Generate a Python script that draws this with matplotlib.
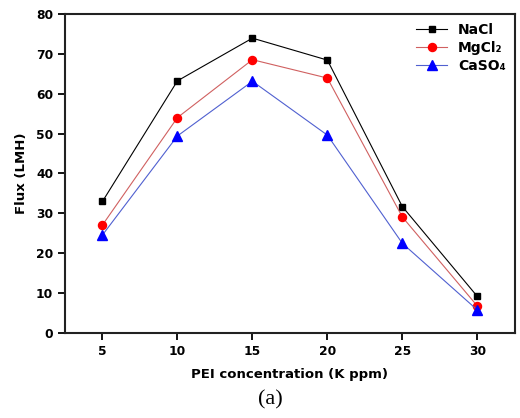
import matplotlib
matplotlib.use("Agg")
import matplotlib.pyplot as plt

conc = [5, 10, 15, 20, 25, 30]
nacl = [33.0, 63.2, 73.9, 68.4, 31.7, 9.2]
mgcl2 = [27.1, 54.0, 68.5, 63.9, 29.1, 6.8]
caso4 = [24.6, 49.4, 63.1, 49.6, 22.5, 5.8]
xticks = [5, 10, 15, 20, 25, 30]
yticks = [0, 10, 20, 30, 40, 50, 60, 70, 80]

fig = plt.figure(figsize=(5.2, 4.18), dpi=100)
ax = fig.add_axes([0.125, 0.203, 0.865, 0.764])

ax.plot(conc, nacl, color="black", lw=0.8, marker="s", ms=5, mfc="black", mec="black", label="NaCl")
ax.plot(conc, mgcl2, color="#d06060", lw=0.8, marker="o", ms=5.8, mfc="red", mec="red", label="MgCl₂")
ax.plot(conc, caso4, color="#5060d0", lw=0.8, marker="^", ms=6.5, mfc="blue", mec="blue", label="CaSO₄")

ax.set_xlim(2.5, 32.5)
ax.set_ylim(0, 80)
ax.set_xticks(xticks)
ax.set_yticks(yticks)
ax.tick_params(direction="out", length=5, width=1.3, labelsize=8.8, top=False, right=False)
for lab in ax.get_xticklabels() + ax.get_yticklabels():
    lab.set_fontweight("bold")
for s in ax.spines.values():
    s.set_linewidth(1.5)
    s.set_color("#222222")

ax.set_xlabel("PEI concentration (K ppm)", fontsize=9.5, fontweight="bold", labelpad=7)
ax.set_ylabel("Flux (LMH)", fontsize=9.5, fontweight="bold", labelpad=6)

leg = ax.legend(loc="upper right", frameon=False, prop={"weight": "bold", "size": 10},
                handlelength=2.2, borderaxespad=0.25, labelspacing=0.3)

fig.text(0.52, 0.02, "(a)", fontsize=16, family="Liberation Serif", ha="center", va="bottom")

fig.savefig("out.png", dpi=100)
